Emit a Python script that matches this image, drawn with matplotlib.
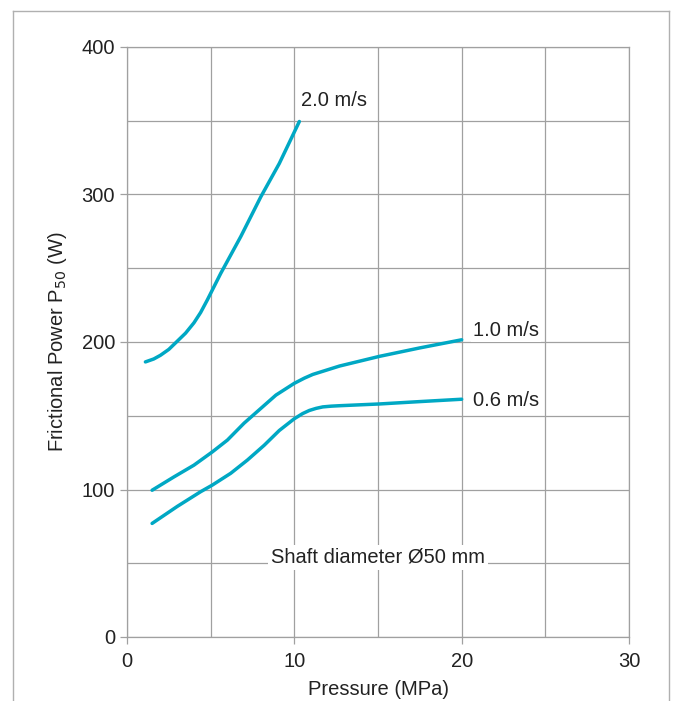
import matplotlib
matplotlib.use("Agg")
import matplotlib.pyplot as plt
from matplotlib.lines import Line2D

plt.rcParams['font.family'] = ['Liberation Sans', 'DejaVu Sans']

# values
p_20 = [1.1, 1.6, 2.0, 2.5, 3.0, 3.5, 4.0, 4.4, 4.8, 5.2, 5.6, 6.8, 8.0, 9.1, 10.3]
w_20 = [186.5, 188.5, 191, 195, 200.5, 206, 213, 220, 228.5, 237.5, 246.5, 271.5, 298.5, 321, 349.5]

p_10 = [1.5, 2.8, 4.0, 5.1, 6.0, 7.0, 8.0, 8.9, 10.0, 10.6, 11.1, 12.7, 15.1, 17.5, 20.0]
w_10 = [99.5, 108.5, 116.5, 125.5, 133.5, 145, 155, 164, 172, 175.5, 178, 183.7, 190.3, 196, 201.5]

p_06 = [1.5, 3.0, 4.4, 5.1, 6.2, 7.2, 8.2, 9.1, 10.0, 10.5, 10.9, 11.3, 11.7, 12.2, 12.7, 15.1, 17.5, 20.0]
w_06 = [77, 88.5, 98.5, 103, 111, 120, 130, 140, 148, 151.5, 153.6, 155, 156, 156.5, 156.8, 158, 159.6, 161.2]

series = [(p_20, w_20, '2.0 m/s', 10.4, 364),
          (p_10, w_10, '1.0 m/s', 20.7, 208),
          (p_06, w_06, '0.6 m/s', 20.7, 160)]

line_color = '#00a8c4'
grid_color = '#a0a0a0'
text_color = '#222222'
fs = 14.5

fig = plt.figure(figsize=(6.81, 7.01), dpi=100)
ax = fig.add_axes([127 / 681, 64 / 701, 502 / 681, 590 / 701])

for x, y, lab, lx, ly in series:
    ax.plot(x, y, color=line_color, lw=2.5, solid_capstyle='round', zorder=3)
    ax.text(lx, ly, lab, fontsize=fs, color=text_color, va='center', ha='left',
            bbox=dict(facecolor='white', edgecolor='none', pad=1.5), zorder=4)

ax.text(15, 54, 'Shaft diameter Ø50 mm', fontsize=fs, color=text_color,
        ha='center', va='center',
        bbox=dict(facecolor='white', edgecolor='none', pad=2), zorder=4)

ax.set_xlim(0, 30)
ax.set_ylim(0, 400)
ax.set_xticks([0, 10, 20, 30])
ax.set_yticks([0, 100, 200, 300, 400])
ax.set_xticks(range(0, 31, 5), minor=True)
ax.set_yticks(range(0, 401, 50), minor=True)
ax.grid(which='both', color=grid_color, lw=0.9, zorder=1)
ax.tick_params(which='major', length=5, color=grid_color, labelsize=fs,
               labelcolor=text_color, width=0.9)
ax.tick_params(axis='x', which='major', pad=6)
ax.tick_params(which='minor', length=0)
for s in ax.spines.values():
    s.set_color(grid_color)
    s.set_linewidth(0.9)

ax.set_xlabel('Pressure (MPa)', fontsize=fs, color=text_color, labelpad=6)
ax.set_ylabel('Frictional Power P$_{50}$ (W)', fontsize=fs, color=text_color,
              labelpad=9)

# outer frame, open at the bottom
fx0, fx1, fy1 = 13 / 681, 669 / 681, 1 - 11 / 701
for xs, ys in [([fx0, fx0], [0, fy1]), ([fx0, fx1], [fy1, fy1]), ([fx1, fx1], [fy1, 0])]:
    fig.add_artist(Line2D(xs, ys, color='#b0b0b0', lw=1.0, transform=fig.transFigure))

fig.savefig('out.png', dpi=100)
